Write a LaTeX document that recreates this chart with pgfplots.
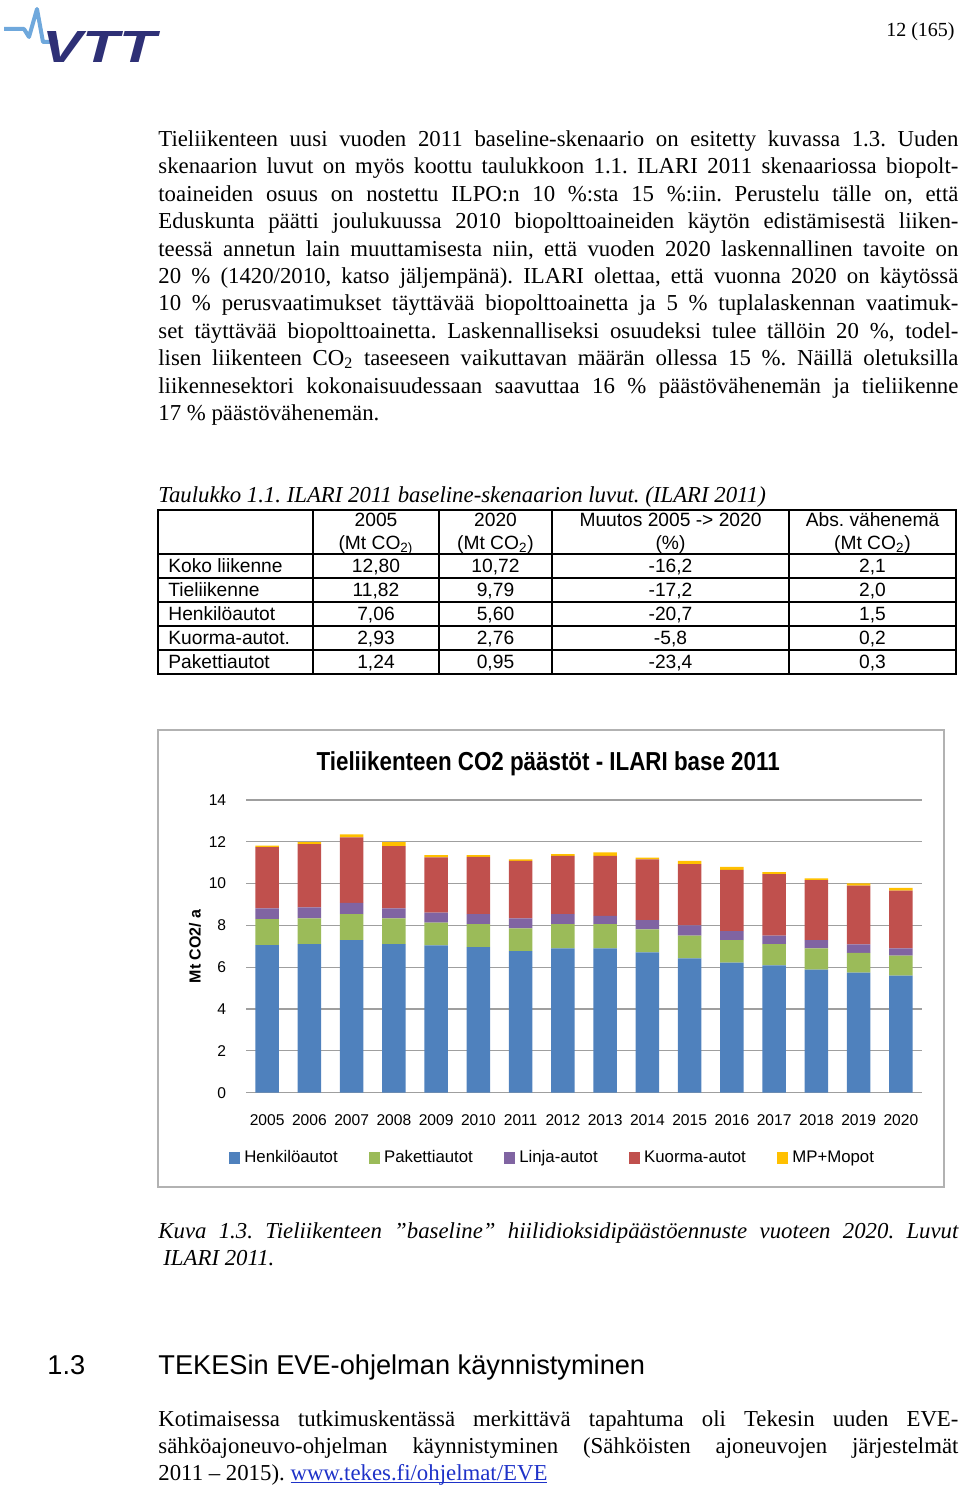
\documentclass[border=0pt]{standalone}
\usepackage{fontspec}
\setmainfont{Liberation Serif}
\newfontfamily\arial{Liberation Sans}
\newfontfamily\arialN[FakeStretch=0.86]{Liberation Sans}
\usepackage{pgfplots}
\usepackage{pgfplotstable}
\pgfplotsset{compat=1.18}
\definecolor{cH}{HTML}{4F81BD}
\definecolor{cP}{HTML}{9BBB59}
\definecolor{cL}{HTML}{8064A2}
\definecolor{cK}{HTML}{C0504D}
\definecolor{cM}{HTML}{FFC000}
\definecolor{navy}{HTML}{2E3076}
\definecolor{lblue}{HTML}{6FA8DC}
\definecolor{linkblue}{RGB}{30,50,200}

\pgfplotstableread{
x H P L K M
0 7.06 1.24 0.51 2.93 0.08
1 7.11 1.22 0.53 3.03 0.09
2 7.30 1.24 0.54 3.13 0.14
3 7.11 1.22 0.48 2.98 0.19
4 7.04 1.09 0.48 2.64 0.11
5 6.96 1.10 0.48 2.74 0.08
6 6.77 1.09 0.47 2.75 0.08
7 6.90 1.16 0.48 2.79 0.08
8 6.90 1.16 0.39 2.88 0.16
9 6.71 1.10 0.44 2.91 0.08
10 6.42 1.09 0.49 2.93 0.16
11 6.22 1.08 0.43 2.92 0.15
12 6.09 1.02 0.40 2.94 0.10
13 5.88 1.02 0.40 2.87 0.08
14 5.74 0.95 0.40 2.81 0.11
15 5.60 0.95 0.35 2.76 0.13
}\co

\frenchspacing
\newcommand{\bodyf}{\fontsize{11.4}{13.7}\selectfont\frenchspacing}
\newcommand{\tabf}{\arial\fontsize{9.6}{11}\selectfont}
\newcommand{\jl}[1]{\hbox to 400pt{#1}}
\newcommand{\myul}[1]{\setbox0\hbox{#1}\rlap{\rule[-1.7pt]{\wd0}{0.55pt}}\box0}
\newcommand{\trow}[6]{%
  \node[anchor=base west] at (168,#1) {#2};
  \node at (376,#1) {#3};
  \node at (495.5,#1) {#4};
  \node at (670.5,#1) {#5};
  \node at (872.5,#1) {#6};}

\begin{document}
\begin{tikzpicture}
\begin{scope}[x=0.5pt,y=-0.5pt]
\path[use as bounding box] (0,0) rectangle (960,1487);
% logo
\draw[lblue, line width=2pt, line join=round] (4,29) -- (24,29) -- (29,37) -- (37,9) -- (43,42) -- (58,42);
\node[navy, inner sep=0] at (99,47) {\resizebox{57pt}{15.5pt}{\arial\bfseries\itshape VTT}};
\node[anchor=base east, inner sep=0] at (955,37) {\fontsize{10}{12}\selectfont 12 (165)};
% paragraph 1
\begin{scope}[every node/.style={anchor=base west, inner sep=0, font=\bodyf}]
\node at (158,146.5) {\jl{Tieliikenteen uusi vuoden 2011 baseline-skenaario on esitetty kuvassa 1.3. Uuden}};
\node at (158,173.9) {\jl{skenaarion luvut on myös koottu taulukkoon 1.1. ILARI 2011 skenaariossa biopolt-}};
\node at (158,201.3) {\jl{toaineiden osuus on nostettu ILPO:n 10 \%:sta 15 \%:iin. Perustelu tälle on, että}};
\node at (158,228.7) {\jl{Eduskunta päätti joulukuussa 2010 biopolttoaineiden käytön edistämisestä liiken-}};
\node at (158,256.1) {\jl{teessä annetun lain muuttamisesta niin, että vuoden 2020 laskennallinen tavoite on}};
\node at (158,283.5) {\jl{20 \% (1420/2010, katso jäljempänä). ILARI olettaa, että vuonna 2020 on käytössä}};
\node at (158,310.9) {\jl{10 \% perusvaatimukset täyttävää biopolttoainetta ja 5 \% tuplalaskennan vaatimuk-}};
\node at (158,338.3) {\jl{set täyttävää biopolttoainetta. Laskennalliseksi osuudeksi tulee tällöin 20 \%, todel-}};
\node at (158,365.7) {\jl{lisen liikenteen CO\textsubscript{2} taseeseen vaikuttavan määrän ollessa 15 \%. Näillä oletuksilla}};
\node at (158,393.1) {\jl{liikennesektori kokonaisuudessaan saavuttaa 16 \% päästövähenemän ja tieliikenne}};
\node at (158,420.5) {17 \% päästövähenemän.};
\node at (158,502) {\itshape Taulukko 1.1. ILARI 2011 baseline-skenaarion luvut. (ILARI 2011)};
\node at (158,1238) {\itshape\jl{Kuva 1.3. Tieliikenteen ”baseline” hiilidioksidipäästöennuste vuoteen 2020. Luvut}};
\node at (163,1265) {\itshape ILARI 2011.};
\node at (158,1426) {\jl{Kotimaisessa tutkimuskentässä merkittävä tapahtuma oli Tekesin uuden EVE-}};
\node at (158,1453) {\jl{sähköajoneuvo-ohjelman käynnistyminen (Sähköisten ajoneuvojen järjestelmät}};
\node at (158,1480) {2011 – 2015). \textcolor{linkblue}{\myul{www.tekes.fi/ohjelmat/EVE}}};
\node at (47,1374) {\arial\fontsize{13.6}{16}\selectfont 1.3};
\node at (158,1374) {\arial\fontsize{13.6}{16}\selectfont TEKESin EVE-ohjelman käynnistyminen};
\end{scope}
% table
\draw[line width=0.6pt] (158,510) rectangle (956,674);
\foreach \yy in {554,578,602,626,650} \draw[line width=0.6pt] (158,\yy) -- (956,\yy);
\foreach \xx in {313,439,552,789} \draw[line width=0.6pt] (\xx,510) -- (\xx,674);
\begin{scope}[every node/.style={anchor=base, inner sep=0, font=\tabf}]
\node at (376,526.5) {2005};
\node at (376,549.5) {(Mt CO\textsubscript{2)}};
\node at (495.5,526.5) {2020};
\node at (495.5,549.5) {(Mt CO\textsubscript{2})};
\node at (670.5,526.5) {Muutos 2005 -> 2020};
\node at (670.5,549.5) {(\%)};
\node at (872.5,526.5) {Abs. vähenemä};
\node at (872.5,549.5) {(Mt CO\textsubscript{2})};
\trow{572.5}{Koko liikenne}{12,80}{10,72}{-16,2}{2,1}
\trow{596.5}{Tieliikenne}{11,82}{9,79}{-17,2}{2,0}
\trow{620.5}{Henkilöautot}{7,06}{5,60}{-20,7}{1,5}
\trow{644.5}{Kuorma-autot.}{2,93}{2,76}{-5,8}{0,2}
\trow{668.5}{Pakettiautot}{1,24}{0,95}{-23,4}{0,3}
\end{scope}
% chart frame
\draw[gray!60, line width=0.8pt] (158,730) rectangle (944,1187);
\end{scope}

\begin{axis}[
  at={(123pt,-546.35pt)}, anchor=south west,
  width=338pt, height=146.4pt, scale only axis,
  ybar stacked, bar width=11.75pt,
  xmin=-0.5, xmax=15.5, ymin=0, ymax=14,
  xtick={0,...,15},
  xticklabels={2005,2006,2007,2008,2009,2010,2011,2012,2013,2014,2015,2016,2017,2018,2019,2020},
  ytick={0,2,...,14},
  ymajorgrids, grid style={draw=gray!75, line width=0.6pt},
  axis line style={draw=none},
  major tick length=0pt,
  /pgf/number format/assume math mode=true,
  ticklabel style={font=\arial\fontsize{7.8}{9}\selectfont},
  yticklabel style={xshift=-6.4pt},
  xticklabel style={yshift=-7.3pt},
  ylabel={Mt CO2/ a},
  ylabel style={at={(axis description cs:-0.0754,0.5)}, anchor=center, rotate=0, font=\arial\bfseries\fontsize{8}{9}\selectfont},
  title={Tieliikenteen CO2 päästöt - ILARI base 2011},
  title style={at={(axis description cs:0.447,1.129)}, anchor=center, yshift=-7pt, font=\arialN\bfseries\fontsize{13}{15}\selectfont},
  legend columns=5,
  legend style={draw=none, fill=none, at={(0.455,-0.223)}, anchor=center,
    font=\arial\fontsize{8.4}{10}\selectfont,
    /tikz/every even column/.append style={column sep=13.6pt}},
  legend image code/.code={\fill[#1] (0pt,-2.8pt) rectangle (5.6pt,2.8pt);},
]
\addplot[fill=cH, draw=none] table[x=x, y=H] {\co};
\addplot[fill=cP, draw=none] table[x=x, y=P] {\co};
\addplot[fill=cL, draw=none] table[x=x, y=L] {\co};
\addplot[fill=cK, draw=none] table[x=x, y=K] {\co};
\addplot[fill=cM, draw=none] table[x=x, y=M] {\co};
\legend{Henkilöautot,Pakettiautot,Linja-autot,Kuorma-autot,MP+Mopot}
\end{axis}
\end{tikzpicture}
\end{document}
